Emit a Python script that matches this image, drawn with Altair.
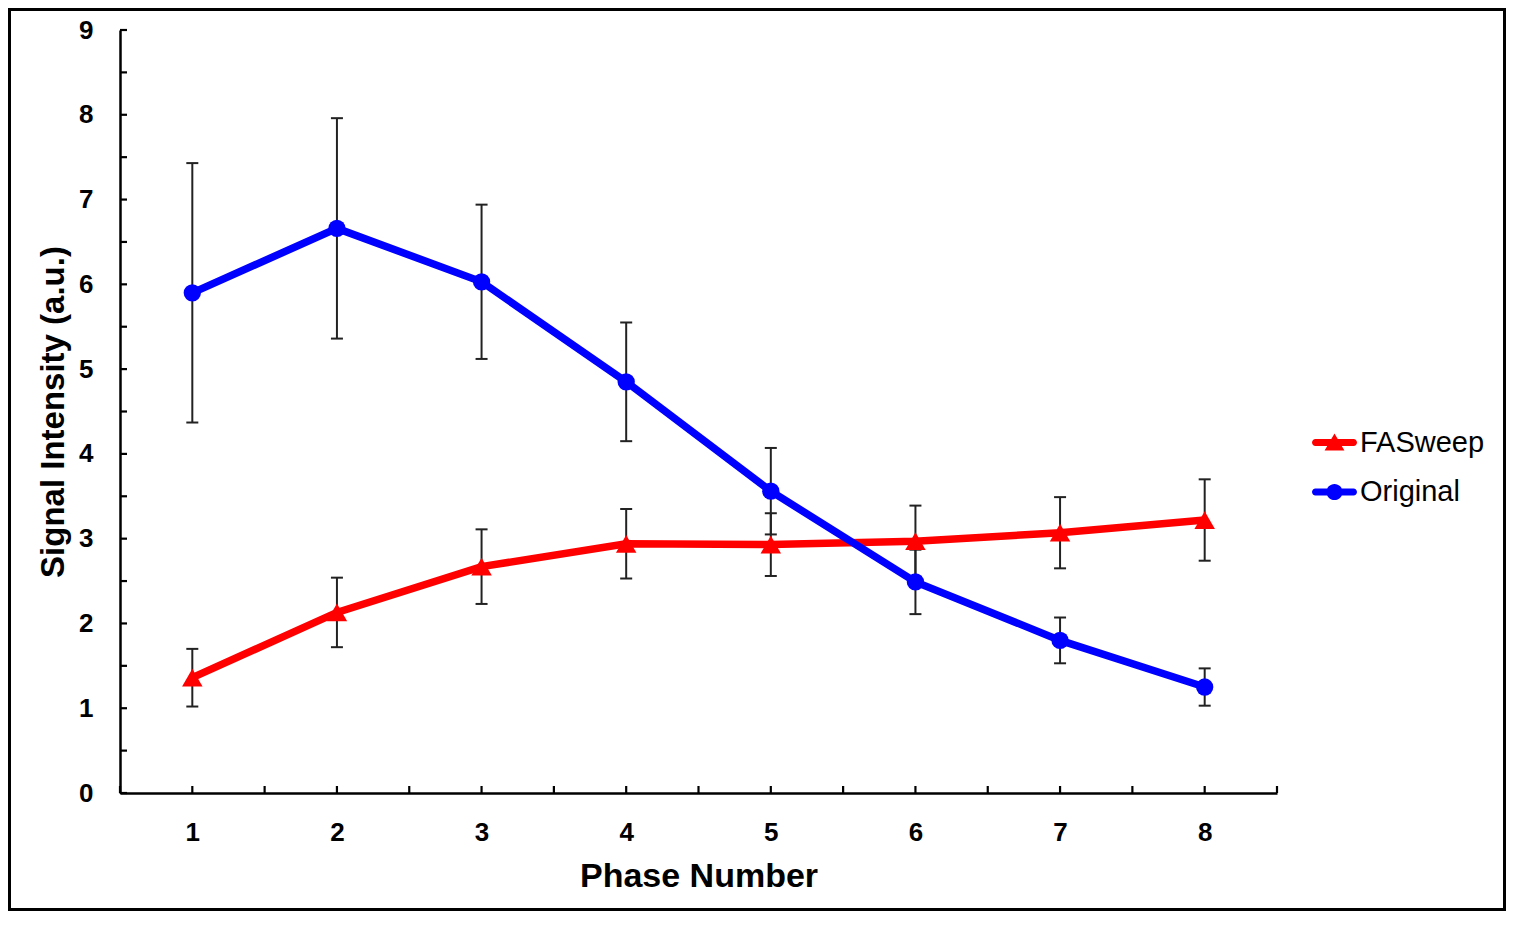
import altair as alt
import pandas as pd

phase = [1, 2, 3, 4, 5, 6, 7, 8]
series_names = ["FASweep", "Original"]
series_colors = ["#FF0000", "#0000FF"]
fasweep = [1.36, 2.13, 2.67, 2.94, 2.93, 2.97, 3.07, 3.22]
fasweep_err = [0.34, 0.41, 0.44, 0.41, 0.37, 0.42, 0.42, 0.48]
original = [5.90, 6.66, 6.03, 4.85, 3.56, 2.49, 1.80, 1.25]
original_err = [1.53, 1.30, 0.91, 0.70, 0.51, 0.38, 0.27, 0.22]
x_ticks = [0.5, 1, 1.5, 2, 2.5, 3, 3.5, 4, 4.5, 5, 5.5, 6, 6.5, 7, 7.5, 8, 8.5]
y_ticks = [0, 0.5, 1, 1.5, 2, 2.5, 3, 3.5, 4, 4.5, 5, 5.5, 6, 6.5, 7, 7.5, 8, 8.5, 9]
y_labels = [0, 1, 2, 3, 4, 5, 6, 7, 8, 9]

rows = []
for name, vals, errs in [("FASweep", fasweep, fasweep_err), ("Original", original, original_err)]:
    for p, v, e in zip(phase, vals, errs):
        rows.append({"phase": p, "series": name, "value": v, "lo": v - e, "hi": v + e})
df = pd.DataFrame(rows)

W, H = 1157, 763
PAD_L, PAD_T, PAD_R, PAD_B = 112, 22, 229, 118
FONT = "Liberation Sans"

xs = alt.Scale(domain=[0.5, 8.5], nice=False, zero=False)
ys = alt.Scale(domain=[0, 9], nice=False, zero=False)
cscale = alt.Scale(domain=series_names, range=series_colors)


def X(field):
    return alt.X(field, type="quantitative", scale=xs, title="Phase Number",
                 axis=alt.Axis(values=phase, ticks=False, grid=False, domainColor="black",
                               domainWidth=2.5, labelFont=FONT, labelFontSize=26,
                               labelFontWeight="bold", labelColor="black", labelPadding=26,
                               titleFont=FONT, titleFontSize=34, titleFontWeight="bold",
                               titleColor="black", titlePadding=14, format="d"))


def Y(field):
    return alt.Y(field, type="quantitative", scale=ys, title="Signal Intensity (a.u.)",
                 axis=alt.Axis(values=y_labels, ticks=False, grid=False, domainColor="black",
                               domainWidth=2.5, labelFont=FONT, labelFontSize=26,
                               labelFontWeight="bold", labelColor="black", labelPadding=27,
                               titleFont=FONT, titleFontSize=33, titleFontWeight="bold",
                               titleColor="black", titlePadding=8, format="d"))


leg = alt.Legend(title=None, orient="none", legendX=1192, legendY=390, symbolSize=2025,
                 symbolOpacity=1, symbolStrokeWidth=0, labelFont=FONT, labelFontSize=29,
                 labelColor="black", labelOffset=3, rowPadding=11.5)

bar_path = ("M-0.845,-0.155L0.845,-0.155A0.155,0.155 0 0,1 0.845,0.155"
            "L-0.845,0.155A0.155,0.155 0 0,1 -0.845,-0.155Z ")
tri_path = bar_path + "M0,-0.4L0.44,0.36L-0.44,0.36Z"
circ_path = bar_path + "M-0.36,0A0.36,0.36 0 1,1 0.36,0A0.36,0.36 0 1,1 -0.36,0Z"

base = alt.Chart(df)

err_rule = base.mark_rule(color="#222222", strokeWidth=2).encode(
    x=X("phase"), y=Y("lo"), y2="hi")
cap_lo = base.mark_tick(orient="horizontal", size=12, thickness=2, color="#222222",
                        opacity=1).encode(x=X("phase"), y=Y("lo"))
cap_hi = base.mark_tick(orient="horizontal", size=12, thickness=2, color="#222222",
                        opacity=1).encode(x=X("phase"), y=Y("hi"))

fas_df = alt.Chart(df).transform_filter(alt.datum.series == "FASweep")
orig_df = alt.Chart(df).transform_filter(alt.datum.series == "Original")

line_fas = fas_df.mark_line(strokeWidth=7.5, color="#FF0000").encode(
    x=X("phase"), y=Y("value"), order="phase:Q")
line_orig = orig_df.mark_line(strokeWidth=7.5, color="#0000FF").encode(
    x=X("phase"), y=Y("value"), order="phase:Q")

tri = fas_df.mark_point(shape="triangle-up", filled=True, size=420, color="#FF0000",
                        opacity=1).encode(x=X("phase"), y=Y("value"))
circ = orig_df.mark_point(shape="circle", filled=True, size=300, color="#0000FF",
                          opacity=1).encode(x=X("phase"), y=Y("value"))

legend_layer = alt.Chart(df).transform_filter("datum.phase < 0").mark_point(
    filled=True, opacity=1).encode(
    x=X("phase"), y=Y("value"),
    color=alt.Color("series:N", scale=cscale, legend=leg),
    shape=alt.Shape("series:N", scale=alt.Scale(domain=series_names,
                                                 range=[tri_path, circ_path]), legend=leg))

xt = pd.DataFrame({"t": x_ticks})
yt = pd.DataFrame({"t": y_ticks})
xtick_layer = alt.Chart(xt).mark_rule(color="black", strokeWidth=2.2).encode(
    x=X("t"), y=alt.value(H - 7), y2=alt.value(H))
ytick_layer = alt.Chart(yt).mark_rule(color="black", strokeWidth=2.2).encode(
    y=Y("t"), x=alt.value(0), x2=alt.value(7))

border = alt.Chart(pd.DataFrame({"b": [0]})).mark_rect(
    filled=False, stroke="black", strokeWidth=3).encode(
    x=alt.value(-PAD_L + 1.5), x2=alt.value(W + PAD_R - 1.5),
    y=alt.value(-PAD_T + 1.5), y2=alt.value(H + PAD_B - 1.5))

chart = alt.layer(
    err_rule, cap_lo, cap_hi, line_fas, line_orig, tri, circ, legend_layer,
    xtick_layer, ytick_layer, border
).properties(
    width=W, height=H,
    autosize=alt.AutoSizeParams(type="none"),
    padding={"left": PAD_L, "top": PAD_T, "right": PAD_R, "bottom": PAD_B},
    background="white",
).configure_view(stroke=None)

chart.save("out.html", embed_options={"renderer": "svg", "actions": False})
